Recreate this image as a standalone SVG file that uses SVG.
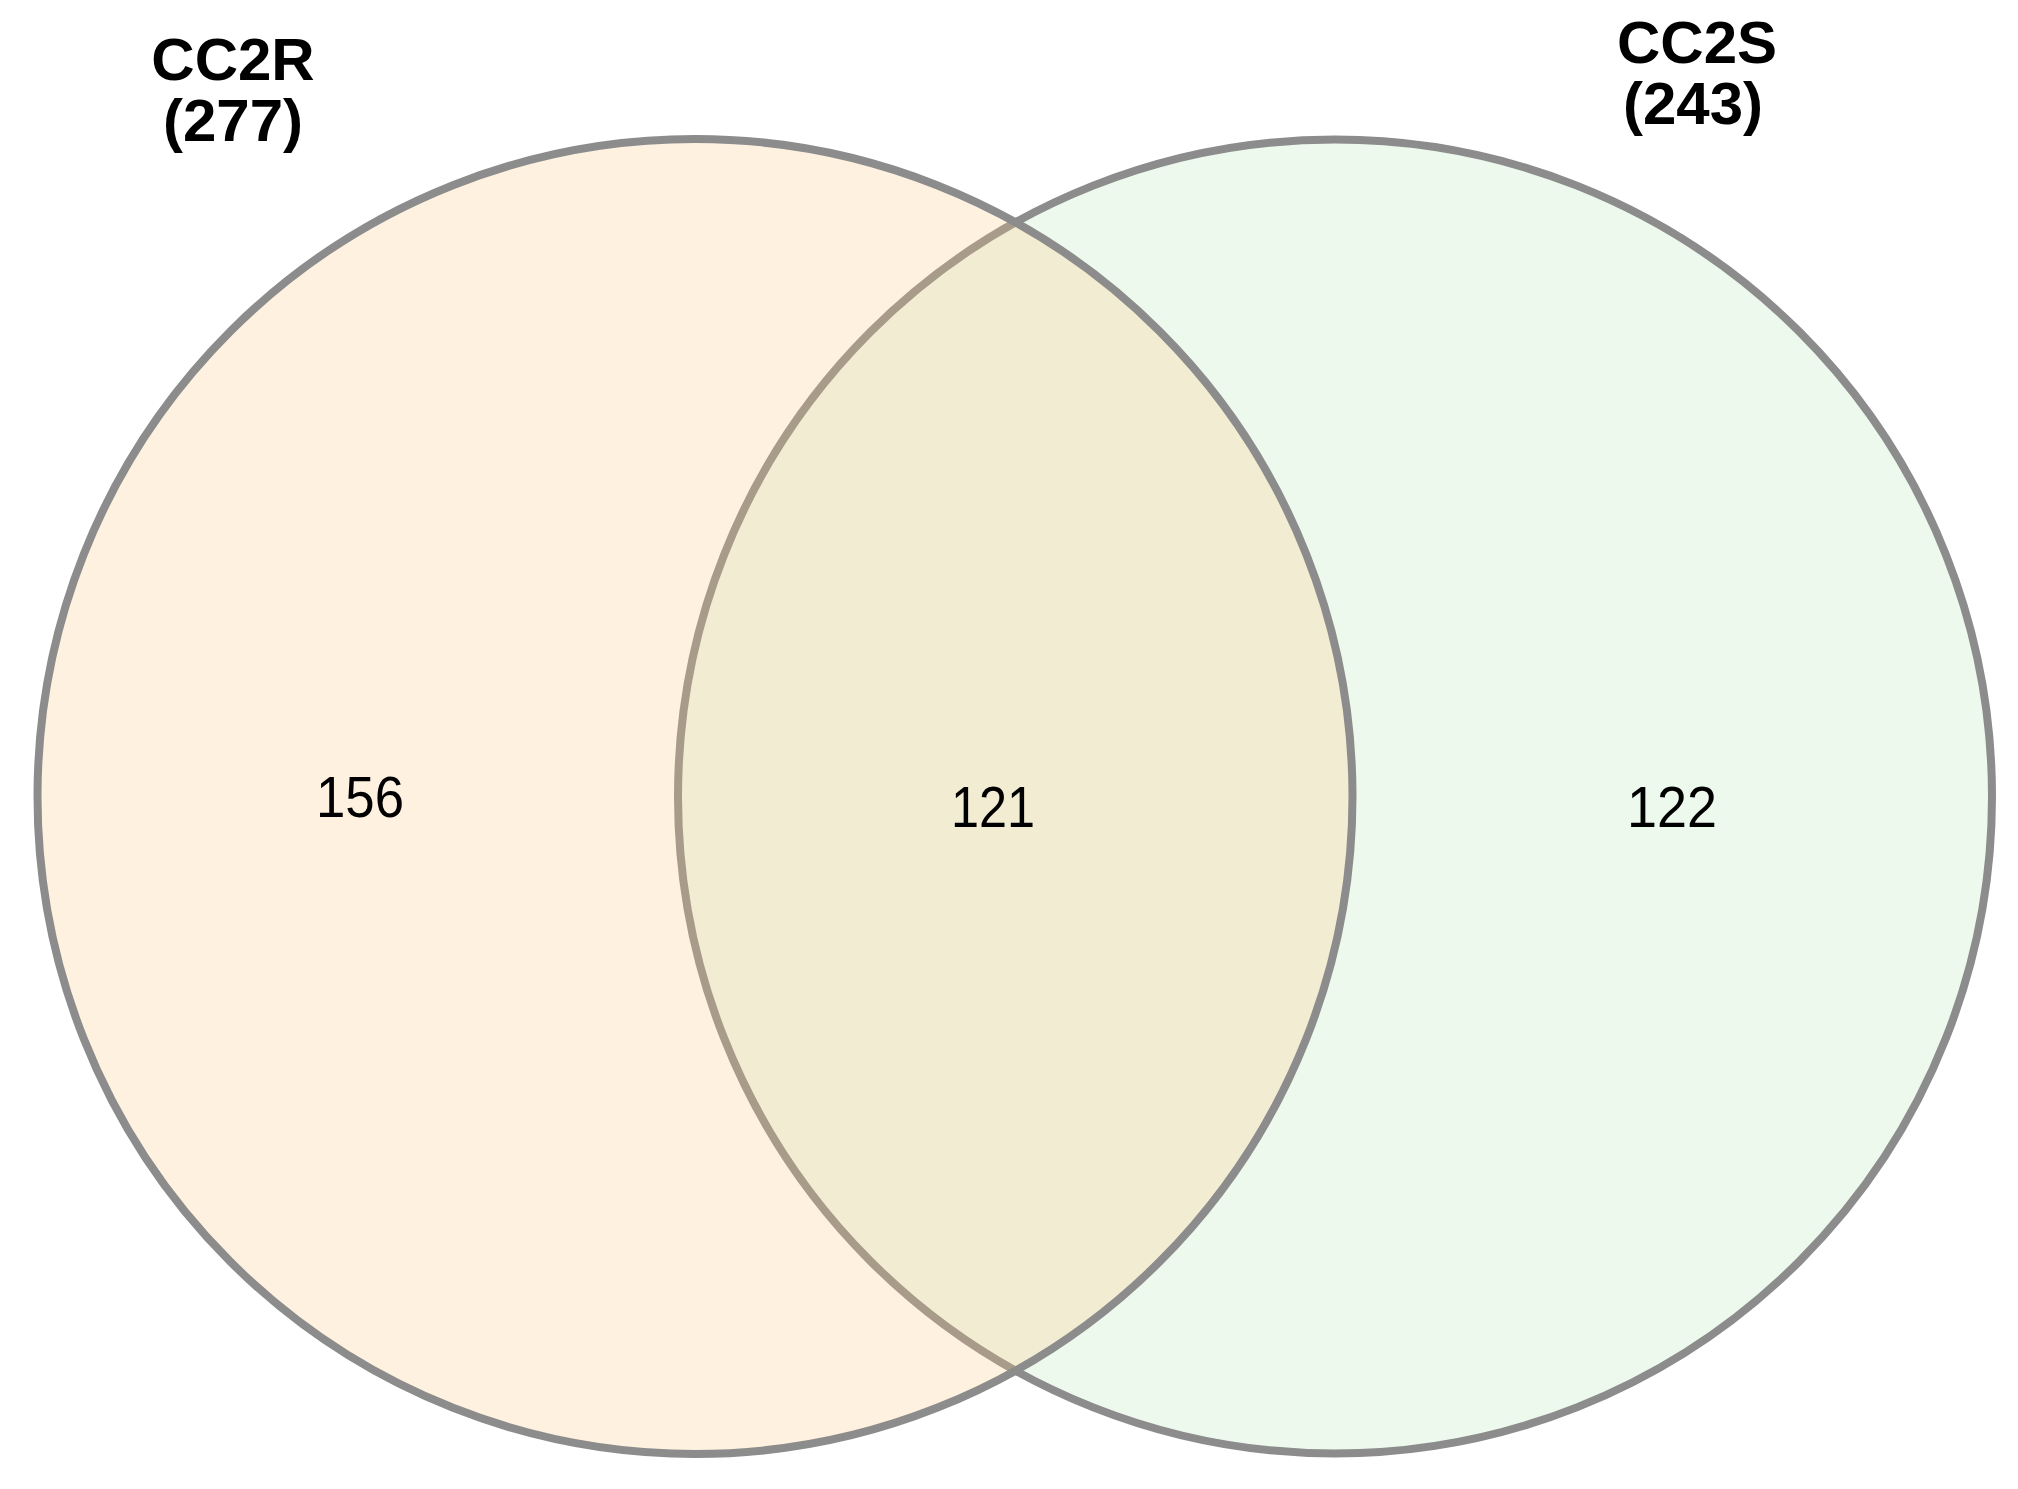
<svg xmlns="http://www.w3.org/2000/svg" width="2018" height="1489" viewBox="0 0 2018 1489">
<style>
.ring{stroke:#8c8c8c;stroke-width:8}
.lbl{font-family:"Liberation Sans",Arial,sans-serif;font-weight:bold;font-size:60px;fill:#000;text-anchor:middle}
.num{font-family:"Liberation Sans",Arial,sans-serif;font-size:58px;fill:#000;text-anchor:middle}
</style>
<rect width="2018" height="1489" fill="#ffffff"/>
<g id="set-cc2s">
<circle class="ring" cx="1335" cy="796.5" r="657" fill="#eef9ee"/>
</g>
<g id="set-cc2r">
<circle class="ring" cx="695" cy="796.5" r="657.5" fill="#fdc981" fill-opacity="0.25"/>
</g>
<g id="labels">
<text class="lbl"><tspan x="233" y="80">CC2R</tspan><tspan x="233" y="141">(277)</tspan></text>
<text class="lbl"><tspan x="1697" y="63">CC2S</tspan><tspan x="1693" y="124">(243)</tspan></text>
</g>
<g id="counts">
<text class="num" x="360" y="817" textLength="88" lengthAdjust="spacingAndGlyphs">156</text>
<text class="num" x="993" y="827" textLength="84" lengthAdjust="spacingAndGlyphs">121</text>
<text class="num" x="1672" y="827" textLength="90" lengthAdjust="spacingAndGlyphs">122</text>
</g>
<g id="connectors"></g>
</svg>
